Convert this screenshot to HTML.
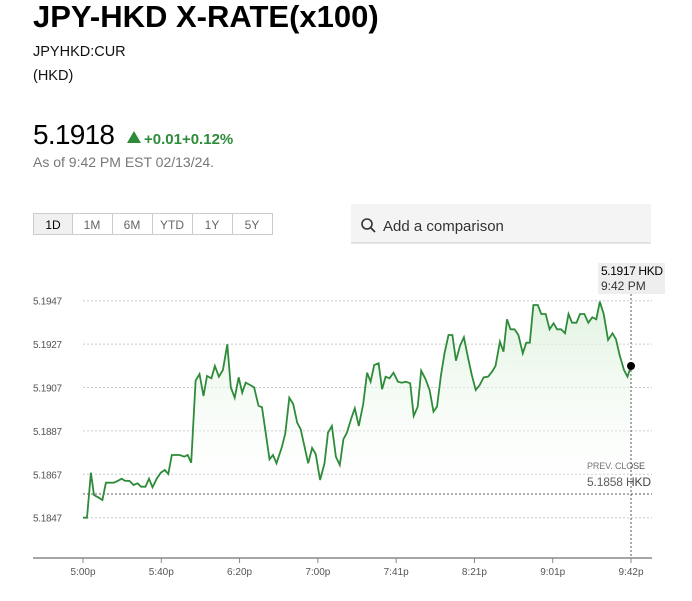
<!DOCTYPE html><html><head><style>
body{margin:0;background:#fff;width:692px;height:596px;overflow:hidden;font-family:"Liberation Sans",sans-serif}
</style></head><body>
<svg id="s" width="692" height="596" xmlns="http://www.w3.org/2000/svg" font-family="Liberation Sans, sans-serif">
<text x="33" y="27" font-size="31" font-weight="bold" fill="#000">JPY-HKD X-RATE(x100)</text>
<text x="33" y="56" font-size="14.5" fill="#111">JPYHKD:CUR</text>
<text x="33" y="80" font-size="14.5" fill="#111">(HKD)</text>
<text x="33" y="144" font-size="28" fill="#000" textLength="82">5.1918</text>
<polygon points="127,143 134,131 141,143" fill="#2e8b3a"/>
<text x="144" y="144" font-size="15" font-weight="bold" fill="#2e8b3a">+0.01+0.12%</text>
<text x="33" y="167" font-size="14" fill="#777">As of 9:42 PM EST 02/13/24.</text>
<rect x="33.5" y="213.5" width="239" height="21" fill="#fff" stroke="#ccc"/>
<rect x="34" y="214" width="38" height="20" fill="#f0f0f0"/>
<g stroke="#ccc"><line x1="72.5" y1="214" x2="72.5" y2="234"/><line x1="112.5" y1="214" x2="112.5" y2="234"/><line x1="152.5" y1="214" x2="152.5" y2="234"/><line x1="192.5" y1="214" x2="192.5" y2="234"/><line x1="232.5" y1="214" x2="232.5" y2="234"/></g>
<g font-size="12" fill="#666" text-anchor="middle"><text x="53" y="229" fill="#000">1D</text><text x="92" y="229">1M</text><text x="132" y="229">6M</text><text x="172" y="229">YTD</text><text x="212" y="229">1Y</text><text x="252" y="229">5Y</text></g>
<rect x="351" y="204" width="300" height="39" fill="#f4f4f4"/>
<line x1="351" y1="243" x2="651" y2="243" stroke="#ccc"/>
<circle cx="367" cy="224" r="5" fill="none" stroke="#333" stroke-width="1.6"/><line x1="371" y1="228" x2="375" y2="232" stroke="#333" stroke-width="1.8"/>
<text x="383" y="231" font-size="15" fill="#333">Add a comparison</text>
<rect x="598" y="263" width="67" height="31" fill="#eee"/>
<text x="601" y="275" font-size="12" fill="#000" textLength="62">5.1917 HKD</text>
<text x="601" y="290" font-size="12" fill="#333">9:42 PM</text>
<text x="587" y="469" font-size="9" fill="#555" textLength="58">PREV. CLOSE</text>
<text x="587" y="486" font-size="12" fill="#444" textLength="64">5.1858 HKD</text>
</svg>
<script>
const s=document.getElementById('s'),NS='http://www.w3.org/2000/svg';
function el(t,a){const e=document.createElementNS(NS,t);for(const k in a)e.setAttribute(k,a[k]);s.appendChild(e);return e;}
const labs=['5.1947','5.1927','5.1907','5.1887','5.1867','5.1847'];
labs.forEach((l,i)=>{const y=300.7+i*43.4;
el('line',{x1:83,y1:y,x2:652,y2:y,stroke:'#ccc','stroke-dasharray':'2,2'});
const t=el('text',{x:33,y:y+4,'font-size':10,fill:'#555',textLength:29});t.textContent=l;});
el('line',{x1:83,y1:494,x2:652,y2:494,stroke:'#555','stroke-dasharray':'2,2'});
el('line',{x1:33,y1:558,x2:652,y2:558,stroke:'#888','stroke-width':1.5});
const tk=['5:00p','5:40p','6:20p','7:00p','7:41p','8:21p','9:01p','9:42p'];
tk.forEach((l,i)=>{const x=83+i*548/7;el('line',{x1:x,y1:558,x2:x,y2:563,stroke:'#888'});
const t=el('text',{x:x,y:575,'font-size':10,fill:'#555','text-anchor':'middle'});t.textContent=l;});
const p=[[188,953],[197,953],[206,818],[213,885],[224,893],[232,900],[240,848],[258,848],[268,842],[276,836],[283,842],[294,843],[303,855],[312,850],[320,860],[330,860],[338,836],[346,862],[356,835],[365,818],[374,810],[382,822],[390,765],[408,765],[418,770],[426,765],[434,788],[444,542],[453,522],[462,588],[470,528],[480,535],[488,498],[497,530],[506,510],[516,433],[524,562],[533,593],[542,532],[550,578],[558,548],[568,555],[577,562],[587,617],[595,622],[612,778],[620,765],[628,790],[640,742],[648,700],[657,593],[666,612],[675,668],[683,688],[700,790],[709,744],[717,762],[727,840],[737,790],[745,698],[754,678],[763,770],[772,795],[780,718],[788,698],[798,655],[806,625],[815,678],[825,612],[834,518],[842,545],[850,495],[860,490],[868,568],[876,530],[885,535],[894,518],[904,545],[913,548],[922,545],[932,550],[940,648],[949,620],[957,512],[967,538],[976,570],[985,635],[993,620],[1002,525],[1010,460],[1019,405],[1028,405],[1036,482],[1045,438],[1054,412],[1063,470],[1072,525],[1081,570],[1090,555],[1099,532],[1109,530],[1118,515],[1126,498],[1136,425],[1144,455],[1152,358],[1160,388],[1169,388],[1178,405],[1188,460],[1196,428],[1204,428],[1212,315],[1222,315],[1230,342],[1240,342],[1249,388],[1258,370],[1266,388],[1275,388],[1284,400],[1292,342],[1300,368],[1310,368],[1318,342],[1328,342],[1337,368],[1346,352],[1355,358],[1363,305],[1372,342],[1382,420],[1392,400],[1400,418],[1408,465],[1418,510],[1426,530],[1434,498]];
const pts=p.map(([x,y])=>[83+(x-188)*548/1246,200+y/3]);
const d=pts.map(q=>q[0].toFixed(1)+','+q[1].toFixed(1)).join(' ');
const defs=el('defs',{});defs.innerHTML='<linearGradient id="g" x1="0" y1="0" x2="0" y2="1"><stop offset="0" stop-color="#d8efd8" stop-opacity="0.8"/><stop offset="1" stop-color="#fff" stop-opacity="0"/></linearGradient>';
el('polygon',{points:d+' 631,494 83,494',fill:'url(#g)'});
el('polyline',{points:d,fill:'none',stroke:'#2e8b3a','stroke-width':1.8});
el('line',{x1:631,y1:294,x2:631,y2:558,stroke:'#555','stroke-dasharray':'2,2'});
el('circle',{cx:631,cy:366,r:4,fill:'#000'});
</script>
</body></html>
